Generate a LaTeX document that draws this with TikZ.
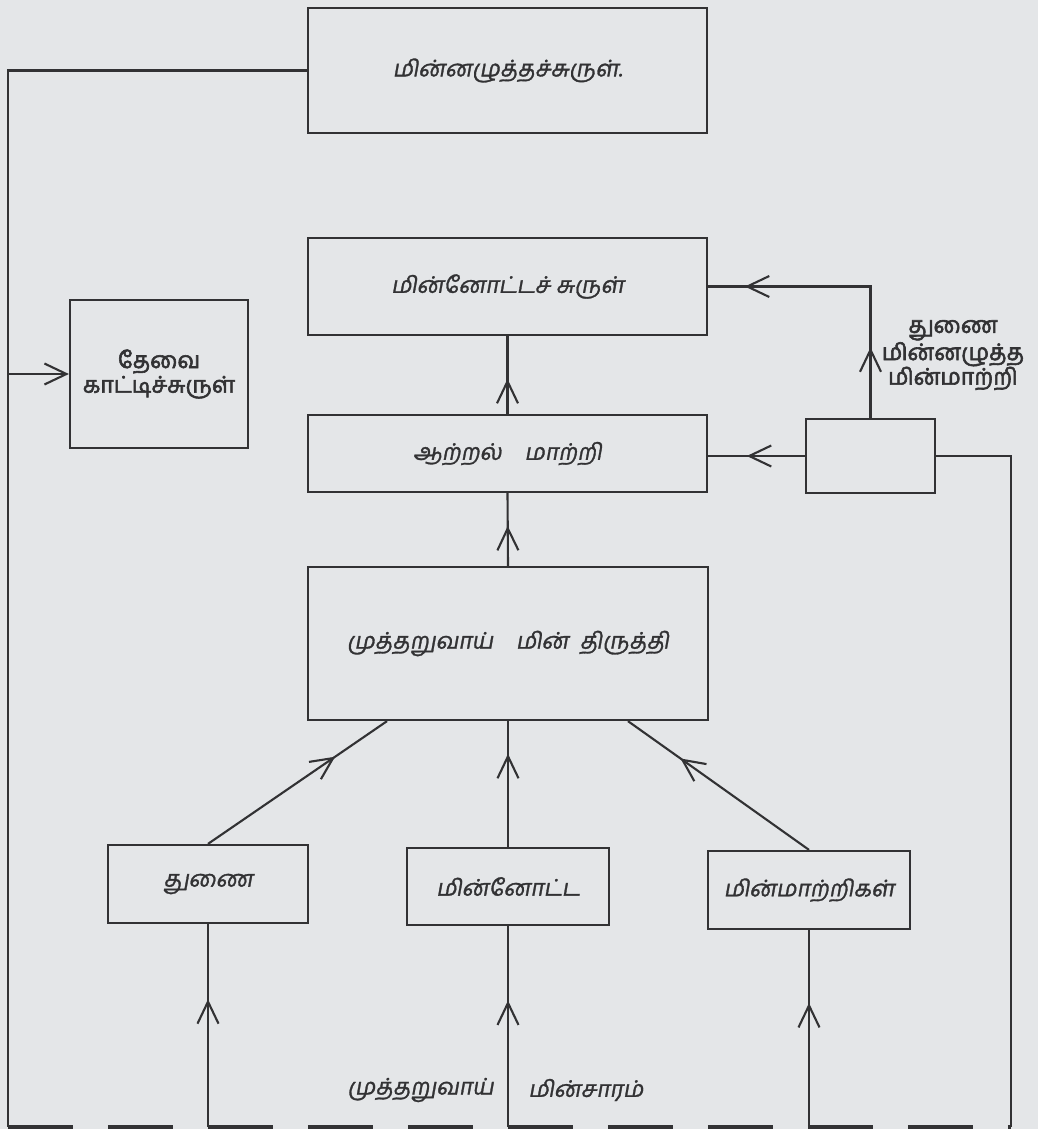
\documentclass[tikz,border=0pt]{standalone}
\usepackage{fontspec}
\usepackage{xcolor}
\usepackage{tikz}
\usetikzlibrary{arrows.meta, decorations.markings}
\newfontfamily\tamilslant[Script=Tamil, FakeSlant=0.18, FakeBold=1.3]{Hind Madurai}
\newfontfamily\tamilbold[Script=Tamil, FakeBold=2.6]{Hind Madurai}
\definecolor{paper}{RGB}{228, 230, 232}
\definecolor{ink}{RGB}{50, 50, 52}

\tikzset{
  >={Straight Barb[length=4.4mm, width=4.2mm]},
  block/.style={draw=ink, line width=1.3pt, inner sep=0pt, text=ink,
    font=\tamilslant\fontsize{13}{16}\selectfont},
  boldtext/.style={text=ink, align=center, inner sep=0pt,
    font=\tamilbold\fontsize{13}{14}\selectfont},
  plaintext/.style={text=ink, inner sep=0pt,
    font=\tamilslant\fontsize{13}{16}\selectfont},
  wire/.style={color=ink, line width=1.2pt},
  flowto/.style={postaction={decorate},
    decoration={markings, mark=at position #1 with {\arrow{>}}}},
}

\begin{document}
\begin{tikzpicture}[x=0.02cm, y=-0.02cm]
    %% paper
    \fill[paper] (0,0) rectangle (1038,1129);

    %% coils and converters
    \node[block, minimum width=7.98cm, minimum height=2.5cm] (voltcoil) at (507.5,70.5) {மின்னழுத்தச்சுருள்.};
    \node[block, minimum width=7.98cm, minimum height=1.94cm] (currcoil) at (507.5,286.5) {மின்னோட்டச் சுருள்};
    \node[block, minimum width=3.56cm, minimum height=2.96cm, font=\tamilbold\fontsize{13}{14}\selectfont, align=center] (needcoil) at (159,374) {தேவை\\காட்டிச்சுருள்};
    \node[block, minimum width=7.98cm, minimum height=1.54cm] (powerconv) at (507.5,453.5) {ஆற்றல்\quad மாற்றி};
    \node[block, minimum width=2.58cm, minimum height=1.48cm] (auxtrans) at (870.5,456) {};
    \node[boldtext] (auxlabel) at (953,355) {துணை\\மின்னழுத்த\\மின்மாற்றி};
    \node[block, minimum width=8cm, minimum height=3.06cm] (rectifier) at (508,643.5) {முத்தறுவாய்\quad மின்\enspace திருத்தி};

    %% input boxes
    \node[block, minimum width=4cm, minimum height=1.56cm] (auxbox) at (208,884) {துணை};
    \node[block, minimum width=4.04cm, minimum height=1.54cm] (currbox) at (508,886.5) {மின்னோட்ட};
    \node[block, minimum width=4.04cm, minimum height=1.56cm] (transbox) at (809,890) {மின்மாற்றிகள்};

    %% supply
    \coordinate (leftbot) at (8,1127);
    \coordinate (rightbot) at (1011,1127);
    \node[plaintext, anchor=east] (phaselbl) at (494,1090) {முத்தறுவாய்};
    \node[plaintext, anchor=west] (supplylbl) at (528,1090) {மின்சாரம்};
    \draw[wire, line width=2.2pt, dash pattern=on 1.3cm off 0.7cm] (leftbot) -- (rightbot);

    %% outer loops
    \draw[wire] (voltcoil.west) -| (leftbot);
    \draw[wire, ->] (needcoil.west -| leftbot) -- (needcoil.west);
    \draw[wire] (auxtrans.east) -| (rightbot);

    %% feeds
    \draw[wire, flowto=0.63] (auxbox.south |- leftbot) -- (auxbox.south);
    \draw[wire, flowto=0.63] (currbox.south |- leftbot) -- (currbox.south);
    \draw[wire, flowto=0.63] (transbox.south |- leftbot) -- (transbox.south);
    \draw[wire, flowto=0.71] (auxbox.north) -- ([xshift=-2.42cm]rectifier.south);
    \draw[wire, flowto=0.74] (currbox.north) -- (rectifier.south);
    \draw[wire, flowto=0.71] (transbox.north) -- ([xshift=2.4cm]rectifier.south);
    \draw[wire, flowto=0.55] (rectifier.north) -- (powerconv.south);
    \draw[wire, flowto=0.45] (powerconv.north) -- (currcoil.south);
    \draw[wire, flowto=0.6] (auxtrans.west) -- (auxtrans.west -| powerconv.east);
    \draw[wire, postaction={decorate}, decoration={markings,
        mark=at position 0.24 with {\arrow{>}},
        mark=at position 0.875 with {\arrow{>}}}]
      (auxtrans.north) |- (currcoil.east);
  \end{tikzpicture}
\end{document}
